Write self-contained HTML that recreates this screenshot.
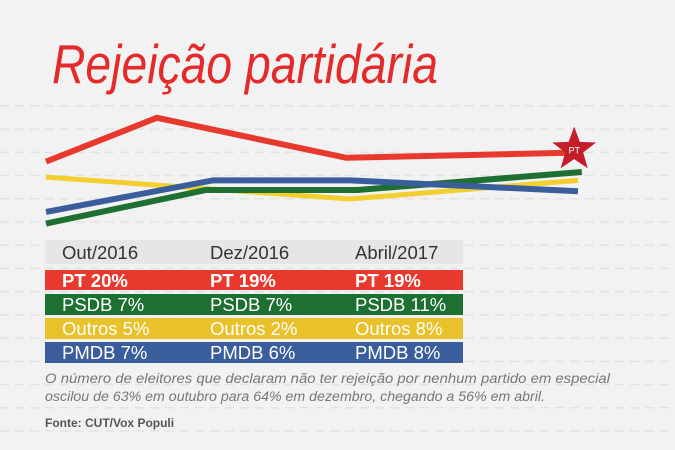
<!DOCTYPE html>
<html><head><meta charset="utf-8">
<style>
html,body{margin:0;padding:0;background:#f2f2f2;}
svg{display:block;font-family:"Liberation Sans",sans-serif;}
</style></head>
<body>
<svg id="chart" width="675" height="450" viewBox="0 0 675 450" xmlns="http://www.w3.org/2000/svg">
<rect x="0" y="0" width="675" height="450" fill="#f2f2f2"/>
<g id="grid"></g>
<text x="52" y="83" font-size="55" font-style="italic" fill="#e32b2b" textLength="386" lengthAdjust="spacingAndGlyphs">Rejeição partidária</text>
<g id="lines"></g>
<g>
<polygon id="star" fill="#c41e2a" points=""/>
<text id="startext" font-size="9" fill="#fff" text-anchor="middle">PT</text>
</g>
<g font-size="18.5">
<rect x="45" y="240" width="418" height="24" fill="#e6e6e6"/>
<text x="62" y="259" fill="#333">Out/2016</text>
<text x="210" y="259" fill="#333">Dez/2016</text>
<text x="355" y="259" fill="#333">Abril/2017</text>
<rect x="45" y="270" width="418" height="20" fill="#e8392f"/>
<g fill="#fff" font-weight="bold"><text x="62" y="287">PT 20%</text><text x="210" y="287">PT 19%</text><text x="355" y="287">PT 19%</text></g>
<rect x="45" y="294" width="418" height="21" fill="#1e7032"/>
<g fill="#fff"><text x="62" y="311">PSDB 7%</text><text x="210" y="311">PSDB 7%</text><text x="355" y="311">PSDB 11%</text></g>
<rect x="45" y="318" width="418" height="21" fill="#e9c12a"/>
<g fill="#fff"><text x="62" y="335">Outros 5%</text><text x="210" y="335">Outros 2%</text><text x="355" y="335">Outros 8%</text></g>
<rect x="45" y="342" width="418" height="21" fill="#3a5d9c"/>
<g fill="#fff"><text x="62" y="359">PMDB 7%</text><text x="210" y="359">PMDB 6%</text><text x="355" y="359">PMDB 8%</text></g>
</g>
<g font-size="13.5" font-style="italic" fill="#777">
<text x="45" y="383" textLength="565" lengthAdjust="spacingAndGlyphs">O número de eleitores que declaram não ter rejeição por nenhum partido em especial</text>
<text x="45" y="401" textLength="500" lengthAdjust="spacingAndGlyphs">oscilou de 63% em outubro para 64% em dezembro, chegando a 56% em abril.</text>
</g>
<text x="45" y="427" font-size="12" font-weight="bold" fill="#555">Fonte: CUT/Vox Populi</text>
</svg>
<script>
// x = months since Oct 2016; values on an abstract 0-10 index
const ptMonths = [0, 1.46, 3.95, 6.95];
const ptValues = [5.3, 8.7, 5.6, 6.0];
const outrosMonths = [0, 4, 7];
const outrosValues = [4.1, 2.4, 3.85];
const pmdbMonths = [0, 2.2, 4, 7];
const pmdbValues = [1.4, 3.85, 3.85, 3.0];
const psdbMonths = [0, 2.1, 4.1, 7.05];
const psdbValues = [0.5, 3.1, 3.1, 4.5];
const gridValues = [-16.2, -14.4, -12.6, -10.8, -9, -7.2, -5.4, -3.6, -1.8, 0, 1.8, 3.6, 5.4, 7.2, 9.0];

const X0 = 46, X1 = 578, M1 = 7;
const Y0 = 230, PXU = 12.9; // value 0 at y=230
const xs = m => X0 + (X1 - X0) * m / M1;
const ys = v => Y0 - v * PXU;
const NS = 'http://www.w3.org/2000/svg';

const grid = document.getElementById('grid');
gridValues.forEach(v => {
  const l = document.createElementNS(NS, 'line');
  
  
  l.setAttribute('x1', 0); l.setAttribute('x2', 675);
  const y = ys(v) - 8;
  l.setAttribute('y1', y); l.setAttribute('y2', y);
  l.setAttribute('stroke', '#e2e2e2'); l.setAttribute('stroke-width', 1.5);
  l.setAttribute('stroke-dasharray', '9 6');
  grid.appendChild(l);
});

const series = [
  ['line-outros', outrosMonths, outrosValues, '#f2cf2e', 5],
  ['line-psdb', psdbMonths, psdbValues, '#1e7032', 6],
  ['line-pmdb', pmdbMonths, pmdbValues, '#3a5d9c', 6],
  ['line-pt', ptMonths, ptValues, '#e8392f', 6]
];
const lines = document.getElementById('lines');
series.forEach(([name, ms, vs, col, w]) => {
  const p = document.createElementNS(NS, 'polyline');
  
  
  p.setAttribute('points', ms.map((m, i) => xs(m) + ',' + ys(vs[i])).join(' '));
  p.setAttribute('fill', 'none'); p.setAttribute('stroke', col);
  p.setAttribute('stroke-width', w);
  lines.appendChild(p);
});

const cx = xs(ptMonths[ptMonths.length - 1]), cy = ys(ptValues[ptValues.length - 1]) - 3;
const pts = [];
for (let i = 0; i < 10; i++) {
  const r = i % 2 ? 9.5 : 23, a = -Math.PI / 2 + i * Math.PI / 5;
  pts.push((cx + r * Math.cos(a)).toFixed(1) + ',' + (cy + r * Math.sin(a)).toFixed(1));
}
document.getElementById('star').setAttribute('points', pts.join(' '));
const st = document.getElementById('startext');
st.setAttribute('x', cx); st.setAttribute('y', cy + 4);
</script>
</body></html>
